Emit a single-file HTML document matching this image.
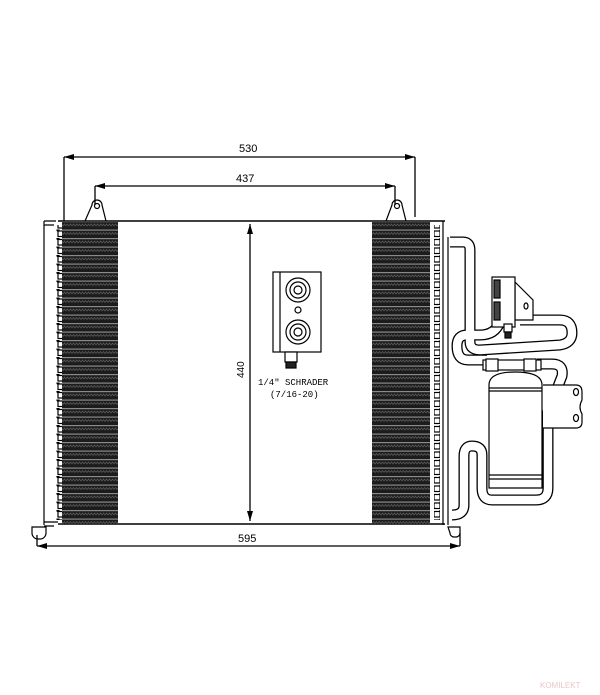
<!DOCTYPE html>
<html><head><style>html,body{margin:0;padding:0;background:#fff}svg{display:block}</style></head><body>
<svg width="600" height="695" viewBox="0 0 600 695" xmlns="http://www.w3.org/2000/svg" font-family="Liberation Sans, sans-serif">
<defs>
<pattern id="fin" x="0" y="221" width="6" height="8.5" patternUnits="userSpaceOnUse">
<rect width="6" height="8.5" fill="#1c1c1c"/>
<rect y="0" width="6" height="1.2" fill="#8a8a8a"/>
<path d="M0 5 L1.5 3 L3 5 L4.5 3 L6 5" stroke="#5a5a5a" stroke-width="0.7" fill="none"/>
</pattern>
<pattern id="tubes" x="0" y="221" width="14" height="8.5" patternUnits="userSpaceOnUse">
<rect width="14" height="8.5" fill="#fff"/>
<rect x="2" y="1.5" width="7" height="5.5" fill="#fff" stroke="#000" stroke-width="1.2"/>
<circle cx="2" cy="0.5" r="1.6" fill="#000"/>
</pattern>
<pattern id="tubesR" x="0" y="221" width="14" height="8.5" patternUnits="userSpaceOnUse">
<rect width="14" height="8.5" fill="#fff"/>
<rect x="0" y="1.5" width="6" height="5.5" fill="#fff" stroke="#000" stroke-width="1.2"/>
<circle cx="7" cy="0.5" r="1.6" fill="#000"/>
</pattern>
</defs>
<g stroke="#000" fill="none" stroke-width="1.3">
<line x1="64" y1="157" x2="415" y2="157"/>
<line x1="64" y1="157" x2="64" y2="221"/>
<line x1="415" y1="157" x2="415" y2="217"/>
<line x1="95" y1="186" x2="395" y2="186"/>
<line x1="95" y1="186" x2="95" y2="205"/>
<line x1="395" y1="186" x2="395" y2="205"/>
<line x1="250" y1="224" x2="250" y2="521"/>
<line x1="37" y1="546" x2="460" y2="546"/>
<line x1="37" y1="535" x2="37" y2="546"/>
<line x1="460" y1="533" x2="460" y2="546"/>
</g>
<g fill="#000">
<path d="M64 157 l10 -3 v6z"/><path d="M415 157 l-10 -3 v6z"/>
<path d="M95 186 l10 -3 v6z"/><path d="M395 186 l-10 -3 v6z"/>
<path d="M250 224 l-3 10 h6z"/><path d="M250 521 l-3 -10 h6z"/>
<path d="M37 546 l10 -3 v6z"/><path d="M460 546 l-10 -3 v6z"/>
</g>
<text x="239" y="152" font-size="11">530</text>
<text x="236" y="182" font-size="11">437</text>
<text x="238" y="542" font-size="11">595</text>
<text transform="translate(244,378) rotate(-90)" font-size="10">440</text>
<line x1="58" y1="221" x2="445" y2="221" stroke="#000" stroke-width="1.5"/>
<line x1="58" y1="524" x2="445" y2="524" stroke="#000" stroke-width="1.5"/>
<rect x="62" y="222" width="56" height="302" fill="url(#fin)"/>
<rect x="372" y="222" width="58" height="302" fill="url(#fin)"/>
<rect x="52" y="225" width="10" height="295" fill="url(#tubes)"/>
<rect x="430" y="225" width="10" height="295" fill="url(#tubesR)"/>
<g stroke="#000" fill="none" stroke-width="1.2">
<line x1="44" y1="221" x2="44" y2="525"/>
<line x1="443" y1="221" x2="443" y2="525"/>
<line x1="448" y1="237" x2="448" y2="525"/>
<path d="M44 221 h12 M44 225 h10"/>
<path d="M44 522 h14 M44 526 h10"/>
<path d="M32 527 h14 v6 a6 6 0 0 1 -6 6 h-2 a6 6 0 0 1 -6 -6z"/>
<path d="M448 527 h12 v6 a4 4 0 0 1 -4 4 h-2 a4 4 0 0 1 -4 -4z"/>
<path d="M85 221 L92 205 a5 5 0 0 1 10 0 L106 221"/>
<circle cx="97" cy="206" r="2.5"/>
<path d="M386 221 L392 205 a5 5 0 0 1 10 0 L406 221"/>
<circle cx="397" cy="206" r="2.5"/>
</g>
<g stroke="#000" fill="#fff" stroke-width="1.2">
<rect x="273" y="272" width="48" height="80"/>
<line x1="280" y1="272" x2="280" y2="352"/>
<circle cx="298" cy="290" r="12"/><circle cx="298" cy="290" r="8"/><circle cx="298" cy="290" r="4"/>
<circle cx="298" cy="310" r="3"/>
<circle cx="298" cy="332" r="12"/><circle cx="298" cy="332" r="8"/><circle cx="298" cy="332" r="4"/>
<rect x="285" y="352" width="12" height="10"/>
<rect x="286" y="362" width="10" height="6" fill="#222"/>
</g>
<text x="258" y="385" font-size="9" font-family="Liberation Mono, monospace">1/4" SCHRADER</text>
<text x="270" y="397" font-size="9" font-family="Liberation Mono, monospace">(7/16-20)</text>
<g fill="none" stroke-linecap="butt" stroke-linejoin="round">
<g stroke="#000" stroke-width="11">
<path d="M450 242 H463 Q470 242 470 250 V342 Q470 350 480 350 L560 345 Q572 343 572 333 Q572 320 560 320 H520"/>
<path d="M500 322 Q495 335 480 335 H467 Q457 335 457 346 Q457 360 468 360 H487"/>
<path d="M537 364 H552 Q564 364 562 376 L548 412 V488 Q548 500 536 500 H492 Q482 500 482 488 V455 Q482 446 472 446 Q464 446 464 456 V505 Q464 515 452 515"/>
</g>
<g stroke="#fff" stroke-width="8.4">
<path d="M450 242 H463 Q470 242 470 250 V342 Q470 350 480 350 L560 345 Q572 343 572 333 Q572 320 560 320 H520"/>
<path d="M500 322 Q495 335 480 335 H467 Q457 335 457 346 Q457 360 468 360 H487"/>
<path d="M537 364 H552 Q564 364 562 376 L548 412 V488 Q548 500 536 500 H492 Q482 500 482 488 V455 Q482 446 472 446 Q464 446 464 456 V505 Q464 515 452 515"/>
</g>
</g>
<g stroke="#000" fill="#fff" stroke-width="1.2">
<path d="M543 385 H576 Q582 385 582 392 V400 Q578 407 582 414 V422 Q582 428 576 428 H543"/>
<ellipse cx="576" cy="392" rx="2.5" ry="3.5"/><ellipse cx="576" cy="418" rx="2.5" ry="3.5"/>
<path d="M489 385 Q489 372 515 372 Q542 372 542 385 V488 H489Z"/>
<line x1="489" y1="388" x2="542" y2="388"/><line x1="489" y1="391" x2="542" y2="391"/>
<line x1="489" y1="475" x2="542" y2="475"/><line x1="489" y1="479" x2="542" y2="479"/>
<rect x="483" y="360" width="58" height="10"/>
<rect x="486" y="359" width="12" height="12"/><rect x="524" y="359" width="12" height="12"/>
<path d="M515 282 L533 300 V320 H515Z"/>
<ellipse cx="526" cy="306" rx="2" ry="3"/>
<rect x="492" y="277" width="23" height="50"/>
<rect x="494" y="280" width="6" height="18" fill="#444"/><rect x="494" y="302" width="6" height="18" fill="#444"/>
<rect x="504" y="324" width="8" height="8"/>
<rect x="505" y="332" width="6" height="6" fill="#222"/>
</g>
<text x="540" y="688" font-size="8" fill="#e8c8c8">KOMILEKT</text>
</svg>
</body></html>
